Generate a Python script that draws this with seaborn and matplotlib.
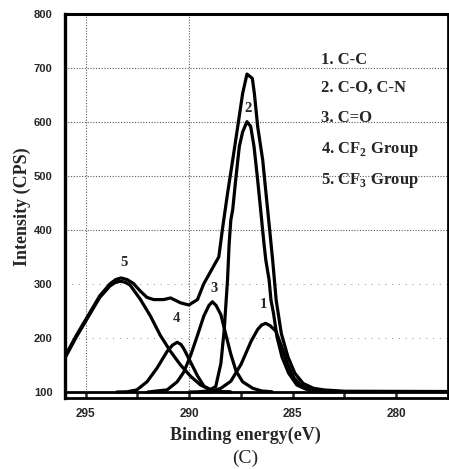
import pandas as pd
import seaborn as sns
import matplotlib.pyplot as plt
from matplotlib.ticker import FixedLocator

# values (binding energy in eV, intensity in CPS)
env_x = [296.0, 295.45, 294.97, 294.32, 293.83, 293.55, 293.3, 293.0, 292.7, 292.37, 292.04, 291.72,
         291.23, 290.9, 290.42, 290.02, 289.6, 289.3, 288.57, 288.4, 288.15, 287.9, 287.66, 287.42,
         287.21, 286.95, 286.85, 286.69, 286.45, 286.29, 286.13, 285.97, 285.8, 285.55, 285.23, 284.9,
         284.5, 284.0, 283.5, 282.5, 277.5]
env_y = [166, 205, 236, 278, 300, 308, 311, 308, 301, 287, 275, 271,
         271, 274, 265, 261, 271, 300, 350, 400, 467, 529, 590, 652,
         688, 680, 651, 590, 529, 467, 406, 344, 270, 208, 165, 135,
         116, 107, 104, 101.5, 101]

p5_x = [296.0, 295.45, 294.97, 294.32, 293.83, 293.6, 293.34, 293.1, 292.86, 292.37, 291.88, 291.4,
        290.9, 290.42, 289.93, 289.45, 288.96, 288.5, 288.0]
p5_y = [163, 202, 233, 275, 296, 302, 305, 303, 298, 272, 241, 205, 175, 150, 129, 113, 104, 101, 100]

p4_x = [293.5, 293.0, 292.53, 292.04, 291.56, 291.07, 290.8, 290.58, 290.4, 290.26, 289.93, 289.6,
        289.29, 288.96, 288.6, 288.0]
p4_y = [100, 100.5, 104, 119, 144, 175, 187, 192, 188, 180, 155, 130, 111, 104, 101, 100]

p3_x = [292.0, 291.56, 291.07, 290.58, 290.26, 289.93, 289.6, 289.29, 289.05, 288.88, 288.7, 288.47,
        288.23, 287.99, 287.74, 287.42, 286.93, 286.5, 286.0]
p3_y = [100, 102, 104, 119, 137, 168, 205, 241, 260, 267, 260, 243, 206, 170, 139, 119, 107, 102, 100.5]

p2_x = [290.0, 289.5, 289.12, 288.72, 288.47, 288.31, 288.15, 288.07, 287.99, 287.9, 287.74, 287.58,
        287.42, 287.21, 287.03, 286.87, 286.71, 286.55, 286.39, 286.3, 286.14, 286.05, 285.93, 285.76,
        285.52, 285.2, 284.8, 284.4, 284.0, 283.5]
p2_y = [100, 100.5, 102, 110, 153, 215, 307, 375, 418, 437, 498, 554,
        581, 600, 591, 554, 498, 437, 375, 344, 307, 270, 246, 202,
        165, 135, 113, 106, 101, 100]

p1_x = [289.5, 288.96, 288.47, 287.99, 287.5, 287.01, 286.69, 286.5, 286.31, 286.1, 285.82, 285.56,
        285.26, 284.94, 284.55, 284.1, 283.6, 283.0]
p1_y = [100, 100.5, 107, 120, 151, 194, 216, 224, 227, 223, 213, 187, 153, 126, 111, 103, 100.5, 100]

peak_names = ["1", "2", "3", "4", "5"]
peak_lab_x = [286.4, 287.18, 288.8, 290.64, 293.14]
peak_lab_y = [261, 625, 292, 236, 339]

legend_lines = ["1. C-C", "2. C-O, C-N", "3. C=O", "4. CF$_\\mathbf{2}$ Group", "5. CF$_\\mathbf{3}$ Group"]
legend_y = [714, 662, 606, 548, 492]

sns.set_style("white")
plt.rcParams["font.family"] = ["Liberation Serif", "DejaVu Serif"]
plt.rcParams["mathtext.fontset"] = "custom"
plt.rcParams["mathtext.rm"] = "Liberation Serif:bold"
plt.rcParams["mathtext.bf"] = "Liberation Serif:bold"

fig = plt.figure(figsize=(4.49, 4.69), dpi=100)
ax = fig.add_axes([65 / 449, 1 - 398 / 469, 383 / 449, (398 - 13.5) / 469])

# dotted grid
for gy in [700, 600, 500, 400]:
    ax.axhline(gy, color="0.35", lw=0.8, ls=(0, (1, 1.5)), zorder=0)
for gy in [300, 200]:
    ax.axhline(gy, color="0.55", lw=0.7, ls=(0, (1, 6)), zorder=0)
for gx in [295, 290]:
    ax.axvline(gx, color="0.35", lw=0.8, ls=(0, (1, 1.5)), zorder=0)

for cx, cy in [(p5_x, p5_y), (p4_x, p4_y), (p3_x, p3_y), (p2_x, p2_y), (p1_x, p1_y), (env_x, env_y)]:
    sns.lineplot(x=cx, y=cy, ax=ax, color="black", lw=2.3, estimator=None, sort=True)

ax.axhline(100, color="black", lw=2.0, zorder=3)

for name, lx, ly in zip(peak_names, peak_lab_x, peak_lab_y):
    ax.text(lx, ly, name, ha="center", va="center", fontsize=10.5, fontweight="bold")

for txt, ly in zip(legend_lines, legend_y):
    ax.text(283.65, ly, txt, ha="left", va="center", fontsize=12, fontweight="bold")

ax.set_xlim(296.0, 277.5)
ax.set_ylim(89, 800)

ax.xaxis.set_major_locator(FixedLocator([295, 290, 285, 280]))
ax.xaxis.set_minor_locator(FixedLocator([292.5, 287.5, 282.5, 277.5]))
ax.set_xticklabels(["295", "290", "285", "280"], fontfamily="Liberation Sans", fontweight="bold", fontsize=8.5)
ax.tick_params(axis="x", which="both", direction="in", length=4.3, width=1.8, pad=7, bottom=True, top=False)
ax.set_yticks([100, 200, 300, 400, 500, 600, 700, 800])
ax.set_yticklabels(["100", "200", "300", "400", "500", "600", "700", "800"],
                   fontfamily="Liberation Sans", fontweight="bold", fontsize=8)
ax.tick_params(axis="y", length=0, pad=9)

for side, w in [("left", 2.4), ("top", 2.2), ("bottom", 2.0), ("right", 2.0)]:
    ax.spines[side].set_linewidth(w)
    ax.spines[side].set_color("black")

ax.set_xlabel("")
ax.set_ylabel("")
fig.text(245 / 449, 1 - 435 / 469, "Binding energy(eV)", ha="center", va="center", fontsize=13, fontweight="bold")
fig.text(245 / 449, 1 - 458 / 469, "(C)", ha="center", va="center", fontsize=14)
fig.text(22 / 449, 1 - 207 / 469, "Intensity (CPS)", ha="center", va="center", rotation=90,
         fontsize=13, fontweight="bold")

fig.savefig("out.png", dpi=100)
